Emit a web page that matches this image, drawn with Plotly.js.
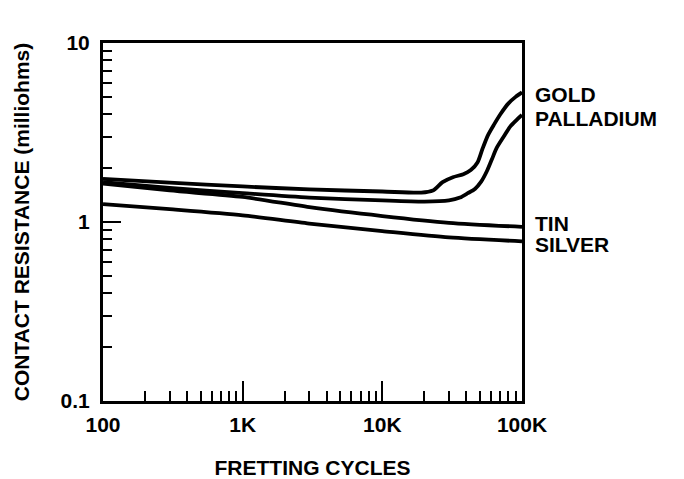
<!DOCTYPE html>
<html>
<head>
<meta charset="utf-8">
<script src="https://cdn.plot.ly/plotly-3.0.1.min.js"></script>
<style>html,body{margin:0;padding:0;background:#fff;}#chart{width:684px;height:479px;}</style>
</head>
<body>
<div id="chart"></div>
<script>
// Data
const goldX = [100, 300, 1000, 3000, 10000, 19000, 23000, 27000, 32000, 38000, 43000, 48000, 52000, 57000, 63000, 70000, 80000, 90000, 100000];
const goldY = [1.74, 1.66, 1.58, 1.52, 1.48, 1.46, 1.50, 1.67, 1.78, 1.85, 1.95, 2.15, 2.55, 3.05, 3.5, 4.0, 4.6, 5.0, 5.3];
const palladiumX = [100, 300, 1000, 3000, 10000, 20000, 30000, 36000, 41000, 46000, 51000, 56000, 61000, 66000, 74000, 82000, 91000, 100000];
const palladiumY = [1.67, 1.55, 1.45, 1.37, 1.32, 1.30, 1.32, 1.37, 1.45, 1.53, 1.68, 1.92, 2.25, 2.6, 3.0, 3.4, 3.7, 3.96];
const tinX = [100, 300, 1000, 3000, 10000, 30000, 100000];
const tinY = [1.64, 1.50, 1.38, 1.21, 1.08, 0.99, 0.94];
const silverX = [100, 300, 1000, 3000, 10000, 30000, 100000];
const silverY = [1.26, 1.18, 1.09, 0.98, 0.89, 0.82, 0.78];
const seriesNames = ['GOLD', 'PALLADIUM', 'TIN', 'SILVER'];
const xTickVals = [100, 1000, 10000, 100000];
const xTickText = ['100', '1K', '10K', '100K'];
const yTickVals = [0.1, 1, 10];
const yTickText = ['0.1', '1', '10'];

const FONT = '"Liberation Sans", Arial, Helvetica, sans-serif';

function minorTicks(lo, hi) {
  const v = [];
  for (let d = lo; d < hi; d *= 10) for (let k = 2; k <= 9; k++) v.push(d * k);
  return v;
}

const lineStyle = {color: '#000', width: 3.8, shape: 'spline', smoothing: 0.7};
const xs = [goldX, palladiumX, tinX, silverX];
const ys = [goldY, palladiumY, tinY, silverY];
const traces = xs.map((x, i) => ({
  x: x, y: ys[i], type: 'scatter', mode: 'lines', name: seriesNames[i],
  line: lineStyle, showlegend: false, hoverinfo: 'skip', cliponaxis: true
}));

// label positions (paper y) for the right-side names
const labelY = [0.855, 0.790, 0.497, 0.436];
const annotations = seriesNames.map((n, i) => ({
  text: n, xref: 'paper', yref: 'paper', x: 1, xshift: 11, y: labelY[i],
  xanchor: 'left', yanchor: 'middle', showarrow: false,
  font: {family: FONT, size: 21, color: '#000', weight: 700}
}));

const layout = {
  width: 684, height: 479,
  margin: {l: 103, r: 162, t: 43, b: 78, pad: 0},
  paper_bgcolor: '#fff', plot_bgcolor: '#fff',
  font: {family: FONT, size: 21, color: '#000', weight: 700},
  xaxis: {
    type: 'log', range: [2, 5], autorange: false,
    showline: true, linewidth: 3, linecolor: '#000', mirror: true,
    showgrid: false, zeroline: false,
    ticks: 'inside', ticklen: 20, tickwidth: 2, tickcolor: '#000',
    tickmode: 'array', tickvals: xTickVals, ticktext: xTickText,
    ticklabelstandoff: 3,
    minor: {tickmode: 'array', tickvals: minorTicks(100, 100000), ticks: 'inside', ticklen: 10, tickwidth: 2, tickcolor: '#000', showgrid: false},
    tickfont: {family: FONT, size: 21, color: '#000', weight: 700},
    title: {text: 'FRETTING CYCLES', font: {family: FONT, size: 21, color: '#000', weight: 700}, standoff: 27},
    automargin: false
  },
  yaxis: {
    type: 'log', range: [-1, 1], autorange: false,
    showline: true, linewidth: 3, linecolor: '#000', mirror: true,
    showgrid: false, zeroline: false,
    ticks: 'inside', ticklen: 18, tickwidth: 2, tickcolor: '#000',
    tickmode: 'array', tickvals: yTickVals, ticktext: yTickText,
    ticklabelstandoff: 6,
    minor: {tickmode: 'array', tickvals: minorTicks(0.1, 10), ticks: 'inside', ticklen: 9, tickwidth: 2, tickcolor: '#000', showgrid: false},
    tickfont: {family: FONT, size: 21, color: '#000', weight: 700},
    title: {text: 'CONTACT RESISTANCE (milliohms)', font: {family: FONT, size: 21, color: '#000', weight: 700}, standoff: 26},
    automargin: false
  },
  annotations: annotations,
  showlegend: false
};

Plotly.newPlot('chart', traces, layout, {staticPlot: true, displayModeBar: false});
</script>
</body>
</html>
